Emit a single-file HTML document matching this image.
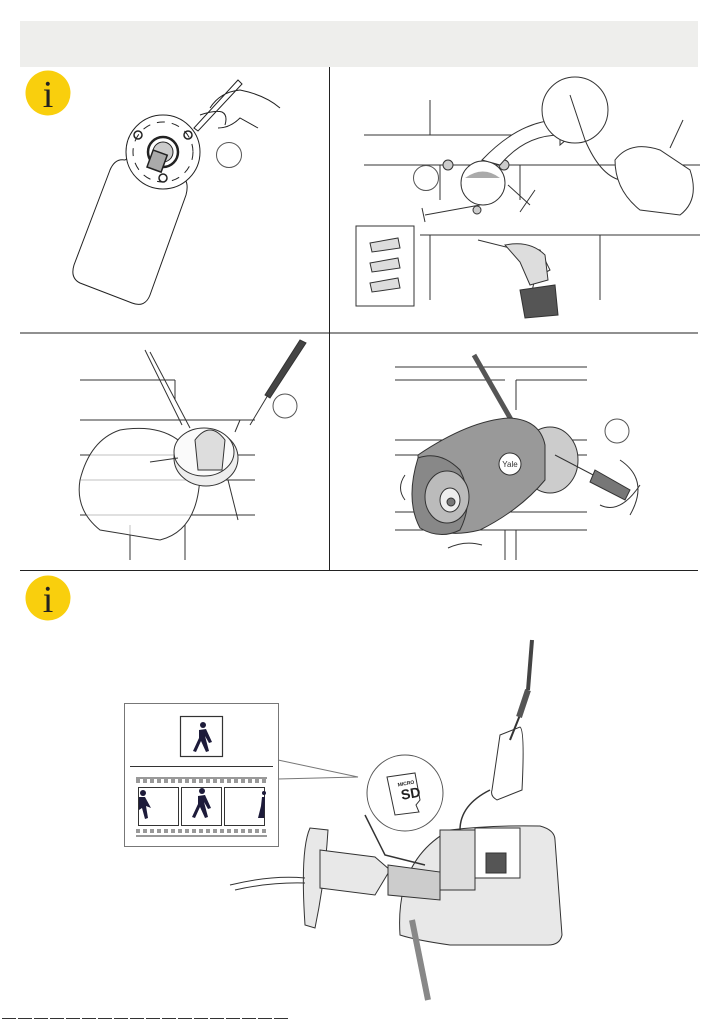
<!DOCTYPE html>
<html><head><meta charset="utf-8"><style>
html,body{margin:0;padding:0;background:#fff;}
svg{display:block;}
</style></head><body>
<svg width="721" height="1021" viewBox="0 0 721 1021" xmlns="http://www.w3.org/2000/svg" font-family="Liberation Serif, serif">
<rect x="20" y="21" width="678" height="46" fill="#eeeeec"/>
<line x1="329.5" y1="67" x2="329.5" y2="570" stroke="#222" stroke-width="1"/>
<line x1="20" y1="333" x2="698" y2="333" stroke="#222" stroke-width="1"/>
<line x1="20" y1="570.5" x2="698" y2="570.5" stroke="#222" stroke-width="1"/>
<circle cx="48" cy="93" r="22.5" fill="#f9cf0d"/>
<text x="48" y="107" font-size="38" text-anchor="middle" fill="#222">i</text>
<circle cx="48" cy="598" r="22.5" fill="#f9cf0d"/>
<text x="48" y="612" font-size="38" text-anchor="middle" fill="#222">i</text>

<!-- Panel 1 -->
<g fill="none" stroke="#222" stroke-width="1">
<path d="M125 160 Q132 155 145 162 L180 175 Q190 180 186 195 L150 295 Q145 308 132 303 L80 283 Q70 278 74 265 L110 170 Q115 158 125 160Z" fill="#fff"/>
<circle cx="163" cy="152" r="37" fill="#fff"/>
<circle cx="163" cy="152" r="30" stroke-dasharray="8 7"/>
<circle cx="163" cy="152" r="15" stroke-width="2.5"/>
<circle cx="163" cy="152" r="10" fill="#ccc"/>
<rect x="150" y="152" width="15" height="18" fill="#aaa" transform="rotate(20 157 160)" stroke-width="1.5"/>
<circle cx="138" cy="135" r="4" stroke-width="1.5"/>
<circle cx="188" cy="135" r="4" stroke-width="1.5"/>
<circle cx="163" cy="178" r="4" stroke-width="1.5"/>
<circle cx="229" cy="155" r="12.5" stroke="#555"/>
<path d="M194 128 L238 80 L242 84 L198 131Z M210 108 Q220 92 240 90 Q265 95 280 108 M200 115 Q215 110 222 112 Q228 115 225 125 M218 128 Q230 128 240 118 L258 128"/>
</g>

<!-- Panel 2 -->
<g fill="none" stroke="#333" stroke-width="1">
<path d="M364 135 H520 M364 165 H700 M430 100 V135 M440 165 V200 M520 165 V200 M420 235 H700 M430 235 V300 M600 235 V300 M590 100 V135"/>
<circle cx="483" cy="183" r="22" fill="#fff"/>
<path d="M465 178 Q483 165 500 178" fill="#aaa" stroke="none"/>
<circle cx="448" cy="165" r="5" fill="#ccc"/><circle cx="504" cy="165" r="5" fill="#ccc"/><circle cx="477" cy="210" r="4" fill="#ccc"/>
<circle cx="426" cy="178" r="12.5" stroke="#555"/>
<path d="M482 160 Q520 120 560 120 L560 110 L580 128 L560 145 L560 135 Q525 135 500 165Z" fill="#fff"/>
<circle cx="575" cy="110" r="33" fill="#fff"/>
<path d="M570 95 L585 140 Q600 175 620 180"/>
<path d="M615 160 Q630 140 660 150 L690 170 Q700 200 680 215 L640 210 Q615 190 615 160Z" fill="#fff"/>
<path d="M670 148 L683 120"/>
<path d="M425 215 L480 205 M508 185 L530 205 M520 212 L535 190 M422 208 L425 222"/>
<rect x="356" y="226" width="58" height="80" fill="#fff"/>
<g fill="#ddd"><path d="M370 243 L398 238 L400 248 L372 252Z"/><path d="M370 263 L398 258 L400 268 L372 272Z"/><path d="M370 283 L398 278 L400 288 L372 292Z"/></g>
<path d="M478 240 L510 248 L540 250 L550 270 L535 278 L530 300" />
<path d="M520 290 L555 285 L558 315 L525 318Z" fill="#555"/>
<path d="M505 245 Q530 240 545 255 L548 280 L530 285 L520 262Z" fill="#ddd"/>
</g>

<!-- Panel 3 -->
<g fill="none" stroke="#333" stroke-width="1">
<path d="M80 380 H175 M80 420 H255 M80 455 H255 M80 480 H255 M80 515 H255 M175 380 V400 M185 525 V560 M130 525 V560"/>
<path d="M145 350 L182 425 M150 352 L190 428"/>
<path d="M120 430 Q180 420 200 470 Q200 530 160 540 L100 530 Q75 510 80 480 Q90 440 120 430Z" fill="rgba(255,255,255,0.7)"/>
<ellipse cx="206" cy="458" rx="32" ry="28" fill="#eee"/>
<ellipse cx="204" cy="452" rx="30" ry="24" fill="#fafafa"/>
<path d="M195 440 Q210 420 225 440 L222 470 L198 470Z" fill="#ddd"/>
<circle cx="285" cy="406" r="12" stroke="#555"/>
<path d="M265 395 L300 340 L306 343 L270 398Z" fill="#444"/>
<path d="M268 395 L250 425"/>
<path d="M150 462 L178 458 M235 432 L240 420 M228 480 L238 520"/>
</g>

<!-- Panel 4 -->
<g fill="none" stroke="#333" stroke-width="1">
<path d="M395 367 H587 M395 380 H505 M516 380 V410 M516 380 H587 M395 440 H587 M395 455 H587 M395 512 H587 M395 530 H587 M505 530 V560 M516 530 V560"/>
<path d="M474 355 L513 423" stroke-width="5" stroke="#555"/>
<ellipse cx="550" cy="460" rx="28" ry="33" fill="#ccc"/>
<path d="M418 455 Q470 420 510 418 Q540 420 545 445 L545 480 Q520 510 480 530 Q440 540 420 520Z" fill="#999"/>
<path d="M418 458 Q440 450 460 470 Q475 500 460 530 Q440 540 420 528 Q405 500 418 458Z" fill="#888"/>
<ellipse cx="447" cy="497" rx="22" ry="26" fill="#bbb"/>
<ellipse cx="450" cy="500" rx="10" ry="12" fill="#eee"/>
<circle cx="451" cy="502" r="4" fill="#777"/>
<circle cx="510" cy="464" r="11" fill="#fff"/>
<text x="510" y="467" font-size="8" font-family="Liberation Sans, sans-serif" text-anchor="middle" fill="#333" stroke="none">Yale</text>
<circle cx="617" cy="431" r="12" stroke="#555"/>
<path d="M555 455 L597 477"/>
<path d="M595 470 L630 490 L625 500 L590 482Z" fill="#777"/>
<path d="M620 460 Q650 480 630 515 M600 505 Q620 515 640 485"/>
<path d="M405 475 Q396 488 405 500 M448 548 Q465 540 482 545"/>
</g>

<!-- Bottom -->
<g fill="none" stroke="#333" stroke-width="1">
<rect x="124.5" y="703.5" width="154" height="143" stroke="#777"/>
<rect x="180.5" y="716.5" width="42" height="40" stroke-width="1.2"/>
<line x1="130" y1="766.5" x2="273" y2="766.5"/>
<line x1="136" y1="778" x2="267" y2="778"/>
<line x1="136" y1="836" x2="267" y2="836"/>
<rect x="138.5" y="787.5" width="40" height="38"/>
<rect x="181.5" y="787.5" width="40" height="38"/>
<rect x="224.5" y="787.5" width="40" height="38"/>
<path d="M136 781 H267 M136 831 H267" stroke-dasharray="4 3" stroke-width="4" stroke="#999"/>
<path d="M278 760 L358 777 L278 779" stroke="#777"/>
<g fill="#1d1b3a" stroke="none">
<circle cx="203" cy="725" r="3"/><path d="M199 730 L206 729 L212 742 L209 743 L205 736 L209 751 L206 752 L201 741 L196 752 L193 751 L199 738Z"/>
<circle cx="202" cy="791" r="3"/><path d="M198 796 L205 795 L211 808 L208 809 L204 802 L208 817 L205 818 L200 807 L195 818 L192 817 L198 804Z"/>
<circle cx="143" cy="793" r="3"/><path d="M139 797 L145 797 L151 808 L146 806 L148 818 L145 819 L142 808 L139 810Z"/>
<circle cx="264" cy="793" r="2"/><path d="M262 797 L265 797 L264 818 L258 818 L261 806Z"/>
</g>
<circle cx="405" cy="793" r="38" fill="#fff" stroke="#555"/>
<path d="M387 777 L415 773 L420 800 L416 805 L419 812 L395 815Z" fill="#fff"/>
<text x="401" y="800" font-size="14" font-family="Liberation Sans, sans-serif" font-weight="bold" fill="#222" stroke="none" transform="rotate(-10 401 795)">SD</text>
<text x="398" y="786" font-size="5" font-family="Liberation Sans, sans-serif" font-weight="bold" fill="#222" stroke="none" transform="rotate(-10 401 786)">MICRO</text>
<path d="M400 935 Q395 860 450 830 Q490 825 540 826 Q555 830 555 840 L562 935 Q560 945 548 945 L450 945 Q415 940 400 935Z" fill="#e8e8e8"/>
<rect x="440" y="830" width="35" height="60" fill="#ddd"/>
<rect x="475" y="828" width="45" height="50" fill="#fff"/>
<rect x="486" y="853" width="20" height="20" fill="#555"/>
<path d="M365 815 L385 855 L425 865" stroke-width="1.5"/>
<path d="M460 830 Q460 805 490 790" stroke-width="1.5"/>
<path d="M500 735 L520 727 Q525 730 522 790 L497 800 Q490 796 492 790Z" fill="#fff"/>
<path d="M520 715 L510 740" stroke-width="2"/>
<path d="M519 717 L528 690" fill="#555" stroke-width="6" stroke="#555"/>
<path d="M528 690 L532 640" stroke-width="4" stroke="#444"/>
<path d="M310 828 Q300 850 305 925 L315 928 Q325 880 328 830Z" fill="#e8e8e8"/>
<path d="M320 850 L375 857 L390 870 L375 895 L320 888Z" fill="#e8e8e8"/>
<path d="M388 865 L440 872 L440 900 L388 895Z" fill="#ccc"/>
<path d="M230 885 Q270 875 305 878 M235 890 Q270 882 305 883"/>
<path d="M412 920 L428 1000" stroke-width="6" stroke="#888"/>
</g>
<line x1="2" y1="1018.5" x2="290" y2="1018.5" stroke="#333" stroke-dasharray="14 2" stroke-width="1"/>
</svg>
</body></html>
